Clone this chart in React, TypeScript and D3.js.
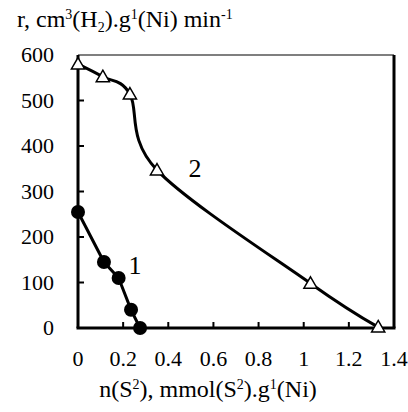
import * as d3 from 'd3'

// series 1: filled circles
const s1X = [0, 0.115, 0.18, 0.235, 0.275]
const s1Y = [255, 145, 110, 40, 0]
// series 2: open triangles
const s2X = [0, 0.11, 0.23, 0.35, 1.03, 1.33]
const s2Y = [580, 552, 514, 347, 98, 2]

const xTicks = [0, 0.2, 0.4, 0.6, 0.8, 1, 1.2, 1.4]
const xTickLabels = ['0', '0.2', '0.4', '0.6', '0.8', '1', '1.2', '1.4']
const yTicks = [0, 100, 200, 300, 400, 500, 600]

const width = 408
const height = 412
const left = 78, right = 394, top = 55, bottom = 328

const FF = 'Liberation Serif'
const serif = { fontFamily: `"${FF}"` }
const sup = { fontFamily: `"${FF}"`, fontSize: 14 }

export default function App() {
  const x = d3.scaleLinear().domain([0, 1.4]).range([left, right])
  const y = d3.scaleLinear().domain([0, 600]).range([bottom, top])

  const pts1 = s1X.map((v, i) => [x(v), y(s1Y[i])] as [number, number])
  const pts2 = s2X.map((v, i) => [x(v), y(s2Y[i])] as [number, number])
  const line1 = d3.line()(pts1) || ''
  const line2 = d3.line().curve(d3.curveCardinal.tension(0))(pts2) || ''
  const tri = d3.symbol().type(d3.symbolTriangle).size(75)() || ''

  return (
    <svg width={width} height={height} fontFamily={FF}
      style={{ position: 'absolute', left: 0, top: 0, background: '#fff' }}>
      {/* frame */}
      <line x1={left} x2={right} y1={top} y2={top} stroke="#555" strokeWidth={1.5} />
      <line x1={right} x2={right} y1={top} y2={bottom} stroke="#000" strokeWidth={3} />

      {/* inside ticks */}
      {yTicks.slice(1, -1).map(d => (
        <line key={'yt' + d} x1={left} x2={left + 6} y1={y(d)} y2={y(d)} stroke="#000" strokeWidth={2} />
      ))}
      {xTicks.slice(1, -1).map(d => (
        <line key={'xt' + d} x1={x(d)} x2={x(d)} y1={bottom} y2={bottom - 6} stroke="#000" strokeWidth={2} />
      ))}

      {/* axes */}
      <line x1={left} x2={left} y1={top} y2={bottom} stroke="#000" strokeWidth={3} />
      <line x1={left - 1.5} x2={right + 1.5} y1={bottom} y2={bottom} stroke="#000" strokeWidth={3} />

      {/* tick labels */}
      {yTicks.map(d => (
        <text key={'yl' + d} x={54} y={y(d) + 7} textAnchor="end" fontSize={22} style={serif}>{String(d)}</text>
      ))}
      {xTicks.map((d, i) => (
        <text key={'xl' + d} x={x(d)} y={366} textAnchor="middle" fontSize={22} style={serif}>{xTickLabels[i]}</text>
      ))}

      {/* series */}
      <path d={line2} fill="none" stroke="#000" strokeWidth={3} />
      <path d={line1} fill="none" stroke="#000" strokeWidth={3} />
      {pts2.map((p, i) => (
        <path key={'tr' + i} d={tri} transform={`translate(${p[0]},${p[1] + 1})`}
          fill="#fff" stroke="#000" strokeWidth={1.5} />
      ))}
      {pts1.map((p, i) => (
        <circle key={'c' + i} cx={p[0]} cy={p[1]} r={7} fill="#000" />
      ))}

      {/* series labels */}
      <text x={135} y={274} textAnchor="middle" fontSize={26} style={serif}>1</text>
      <text x={195} y={177} textAnchor="middle" fontSize={26} style={serif}>2</text>

      {/* axis titles */}
      <text x={17} y={27} fontSize={24} style={serif}>
        <tspan style={serif}>r, cm</tspan>
        <tspan dy={-8} style={sup}>3</tspan>
        <tspan dy={8} style={serif}>(H</tspan>
        <tspan dy={5} style={sup}>2</tspan>
        <tspan dy={-5} style={serif}>).g</tspan>
        <tspan dy={-8} style={sup}>1</tspan>
        <tspan dy={8} style={serif}>(Ni) min</tspan>
        <tspan dy={-8} style={sup}>-1</tspan>
      </text>
      <text x={208} y={397} fontSize={24} textAnchor="middle" style={serif}>
        <tspan style={serif}>n(S</tspan>
        <tspan dy={-8} style={sup}>2</tspan>
        <tspan dy={8} style={serif}>), mmol(S</tspan>
        <tspan dy={-8} style={sup}>2</tspan>
        <tspan dy={8} style={serif}>).g</tspan>
        <tspan dy={-8} style={sup}>1</tspan>
        <tspan dy={8} style={serif}>(Ni)</tspan>
      </text>
    </svg>
  )
}
